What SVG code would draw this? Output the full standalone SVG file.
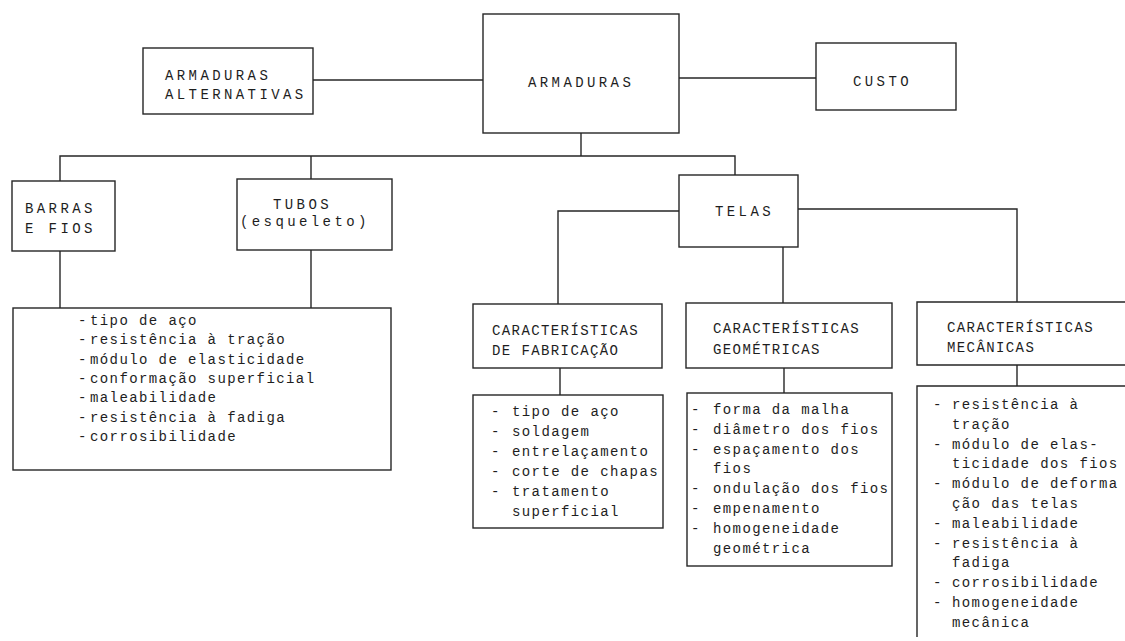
<svg xmlns="http://www.w3.org/2000/svg" width="1125" height="641" viewBox="0 0 1125 641">
  <style>
    rect.box, path.box { fill: none; stroke: #262626; stroke-width: 1.4; }
    .links path { fill: none; stroke: #262626; stroke-width: 1.4; }
    text { font-family: "Liberation Mono", "DejaVu Sans Mono", monospace; font-size: 14px; fill: #1e1e1e; letter-spacing: 1.4px; }
    text.sp { letter-spacing: 3.4px; }
  </style>
  <rect width="1125" height="641" fill="#ffffff"/>

  <!-- connectors -->
  <g class="links" id="connectors">
    <path d="M313,80 H483"/>
    <path d="M679,78 H816"/>
    <path d="M581,133 V156"/>
    <path d="M60,181 V156 H735 V175"/>
    <path d="M311,156 V179"/>
    <path d="M60,251 V308"/>
    <path d="M311,250 V308"/>
    <path d="M679,211 H558 V304"/>
    <path d="M798,209 H1017 V302"/>
    <path d="M783,247 V303"/>
    <path d="M560,368 V395"/>
    <path d="M784,368 V393"/>
    <path d="M1017,365 V386"/>
  </g>

  <!-- top row -->
  <g id="armaduras">
    <rect class="box" x="483" y="14" width="196" height="119"/>
    <text class="sp" x="528" y="87">ARMADURAS</text>
  </g>
  <g id="armaduras-alternativas">
    <rect class="box" x="143" y="48" width="170" height="66"/>
    <text class="sp" x="165" y="80">ARMADURAS</text>
    <text class="sp" x="165" y="99">ALTERNATIVAS</text>
  </g>
  <g id="custo">
    <rect class="box" x="816" y="43" width="140" height="67"/>
    <text class="sp" x="853" y="86">CUSTO</text>
  </g>

  <!-- second row -->
  <g id="barras-fios">
    <rect class="box" x="12" y="181" width="103" height="70"/>
    <text class="sp" x="25" y="213">BARRAS</text>
    <text class="sp" x="25" y="233">E FIOS</text>
  </g>
  <g id="tubos">
    <rect class="box" x="237" y="179" width="155" height="71"/>
    <text class="sp" x="273" y="209">TUBOS</text>
    <text class="sp" x="240" y="226">(esqueleto)</text>
  </g>
  <g id="telas">
    <rect class="box" x="679" y="175" width="119" height="72"/>
    <text class="sp" x="715" y="216">TELAS</text>
  </g>

  <!-- properties of bars and tubes -->
  <g id="lista-barras-tubos">
    <rect class="box" x="13" y="308" width="378" height="162"/>
    <text x="78" y="325">-</text><text x="90" y="325">tipo de aço</text>
    <text x="78" y="344">-</text><text x="90" y="344">resistência à tração</text>
    <text x="78" y="364">-</text><text x="90" y="364">módulo de elasticidade</text>
    <text x="78" y="383">-</text><text x="90" y="383">conformação superficial</text>
    <text x="78" y="402">-</text><text x="90" y="402">maleabilidade</text>
    <text x="78" y="422">-</text><text x="90" y="422">resistência à fadiga</text>
    <text x="78" y="441">-</text><text x="90" y="441">corrosibilidade</text>
  </g>

  <!-- mesh characteristics -->
  <g id="caracteristicas-fabricacao">
    <rect class="box" x="473" y="304" width="189" height="64"/>
    <text x="492" y="335">CARACTERÍSTICAS</text>
    <text x="492" y="355">DE FABRICAÇÃO</text>
  </g>
  <g id="lista-fabricacao">
    <rect class="box" x="473" y="395" width="190" height="133"/>
    <text x="491" y="416">-</text><text x="512" y="416">tipo de aço</text>
    <text x="491" y="436">-</text><text x="512" y="436">soldagem</text>
    <text x="491" y="456">-</text><text x="512" y="456">entrelaçamento</text>
    <text x="491" y="476">-</text><text x="512" y="476">corte de chapas</text>
    <text x="491" y="496">-</text><text x="512" y="496">tratamento</text>
    <text x="512" y="516">superficial</text>
  </g>

  <g id="caracteristicas-geometricas">
    <rect class="box" x="686" y="303" width="206" height="65"/>
    <text x="713" y="333">CARACTERÍSTICAS</text>
    <text x="713" y="354">GEOMÉTRICAS</text>
  </g>
  <g id="lista-geometricas">
    <rect class="box" x="687" y="393" width="205" height="173"/>
    <text x="691" y="414">-</text><text x="713" y="414">forma da malha</text>
    <text x="691" y="434">-</text><text x="713" y="434">diâmetro dos fios</text>
    <text x="691" y="454">-</text><text x="713" y="454">espaçamento dos</text>
    <text x="713" y="473">fios</text>
    <text x="691" y="493">-</text><text x="713" y="493">ondulação dos fios</text>
    <text x="691" y="513">-</text><text x="713" y="513">empenamento</text>
    <text x="691" y="533">-</text><text x="713" y="533">homogeneidade</text>
    <text x="713" y="553">geométrica</text>
  </g>

  <g id="caracteristicas-mecanicas">
    <path class="box" d="M1126,302 H917 V365 H1126"/>
    <text x="947" y="332">CARACTERÍSTICAS</text>
    <text x="947" y="352">MECÂNICAS</text>
  </g>
  <g id="lista-mecanicas">
    <path class="box" d="M1126,386 H917 V637"/>
    <text x="933" y="409">-</text><text x="952" y="409">resistência à</text>
    <text x="952" y="429">tração</text>
    <text x="933" y="449">-</text><text x="952" y="449">módulo de elas-</text>
    <text x="952" y="468">ticidade dos fios</text>
    <text x="933" y="488">-</text><text x="952" y="488">módulo de deforma</text>
    <text x="952" y="508">ção das telas</text>
    <text x="933" y="528">-</text><text x="952" y="528">maleabilidade</text>
    <text x="933" y="548">-</text><text x="952" y="548">resistência à</text>
    <text x="952" y="567">fadiga</text>
    <text x="933" y="587">-</text><text x="952" y="587">corrosibilidade</text>
    <text x="933" y="607">-</text><text x="952" y="607">homogeneidade</text>
    <text x="952" y="627">mecânica</text>
  </g>
</svg>
